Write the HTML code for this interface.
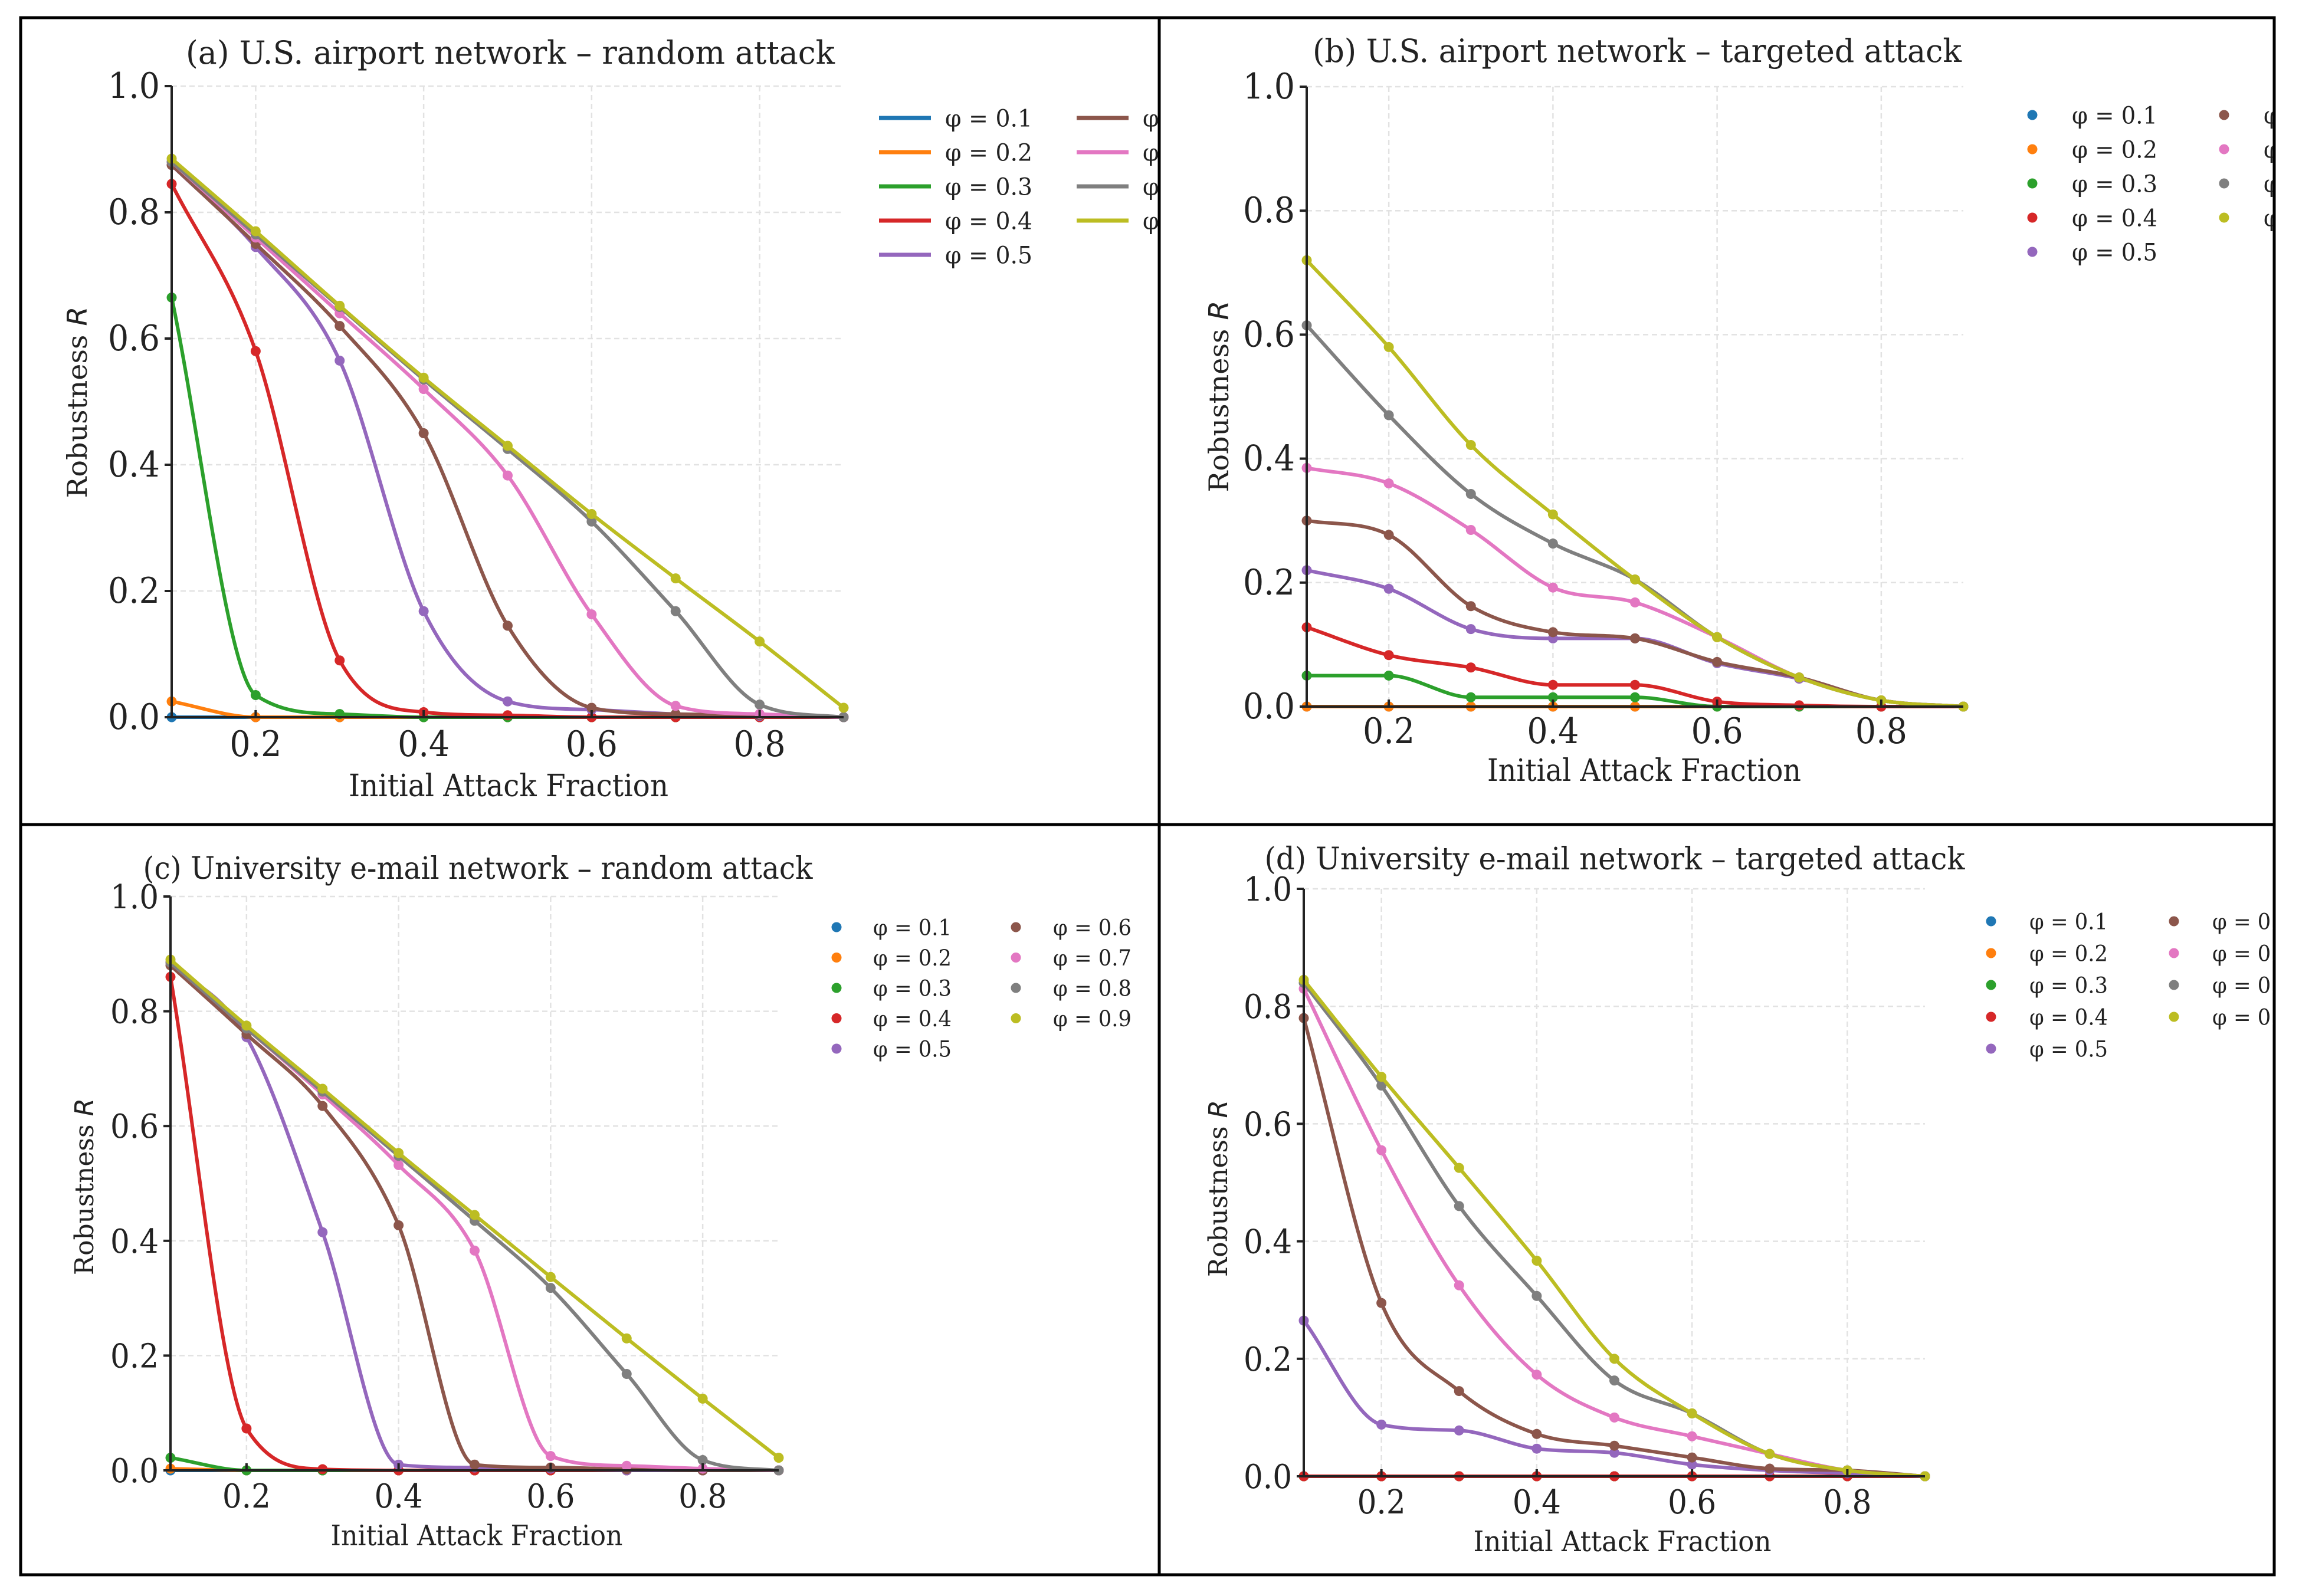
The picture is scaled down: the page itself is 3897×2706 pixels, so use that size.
<!DOCTYPE html>
<html><head><meta charset="utf-8"><style>
html,body{margin:0;padding:0;background:#fff;}
svg{display:block;}
text{font-family:"DejaVu Serif","Liberation Serif",serif;fill:#222;}
</style></head><body>
<svg id="fig" xmlns="http://www.w3.org/2000/svg" width="3897" height="2706" viewBox="0 0 3897 2706">
<defs>
<clipPath id="clipA"><rect x="38" y="33" width="1925" height="1363"/></clipPath>
<clipPath id="clipB"><rect x="1968" y="33" width="1885" height="1363"/></clipPath>
<clipPath id="clipC"><rect x="38" y="1401" width="1925" height="1267"/></clipPath>
<clipPath id="clipD"><rect x="1968" y="1401" width="1885" height="1267"/></clipPath>
</defs>
<rect x="0" y="0" width="3897" height="2706" fill="#fff"/>
<g id="frames" stroke="#000" stroke-width="5" fill="none">
<rect x="35" y="30" width="3820" height="2640"/>
<line x1="1965" y1="30" x2="1965" y2="2670"/>
<line x1="35" y1="1398" x2="3855" y2="1398"/>
</g>
</svg>
<script>
const xValues = [0.1,0.2,0.3,0.4,0.5,0.6,0.7,0.8,0.9];
const phiLabels = ['φ = 0.1','φ = 0.2','φ = 0.3','φ = 0.4','φ = 0.5','φ = 0.6','φ = 0.7','φ = 0.8','φ = 0.9'];
const xTickValues = [0.2,0.4,0.6,0.8];
const xTickLabels = ['0.2','0.4','0.6','0.8'];
const yTickValues = [0.0,0.2,0.4,0.6,0.8,1.0];
const yTickLabels = ['0.0','0.2','0.4','0.6','0.8','1.0'];
const colors = ['#1f77b4','#ff7f0e','#2ca02c','#d62728','#9467bd','#8c564b','#e377c2','#7f7f7f','#bcbd22'];

const airportRandom = [
 [0,0,0,0,0,0,0,0,0],
 [0.025,0,0,0,0,0,0,0,0],
 [0.665,0.035,0.005,0,0,0,0,0,0],
 [0.845,0.58,0.09,0.008,0.003,0,0,0,0],
 [0.875,0.745,0.565,0.168,0.025,0.012,0.005,0.002,0],
 [0.875,0.75,0.62,0.45,0.145,0.015,0.005,0.003,0],
 [0.88,0.76,0.64,0.52,0.383,0.163,0.018,0.005,0],
 [0.88,0.765,0.65,0.535,0.425,0.31,0.168,0.02,0],
 [0.885,0.77,0.652,0.538,0.43,0.322,0.22,0.12,0.015]
];
const airportTargeted = [
 [0,0,0,0,0,0,0,0,0],
 [0,0,0,0,0,0,0,0,0],
 [0.05,0.05,0.015,0.015,0.015,0,0,0,0],
 [0.128,0.083,0.063,0.035,0.035,0.008,0.002,0,0],
 [0.22,0.19,0.125,0.11,0.11,0.07,0.045,0.01,0],
 [0.30,0.277,0.162,0.12,0.11,0.072,0.047,0.01,0],
 [0.385,0.36,0.285,0.192,0.168,0.112,0.047,0.01,0],
 [0.615,0.47,0.343,0.263,0.205,0.112,0.047,0.01,0],
 [0.72,0.58,0.422,0.31,0.205,0.112,0.047,0.01,0]
];
const emailRandom = [
 [0,0,0,0,0,0,0,0,0],
 [0.003,0,0,0,0,0,0,0,0],
 [0.022,0,0,0,0,0,0,0,0],
 [0.86,0.073,0.002,0,0,0,0,0,0],
 [0.885,0.755,0.415,0.01,0.005,0.003,0,0,0],
 [0.88,0.76,0.635,0.427,0.01,0.005,0.002,0,0],
 [0.885,0.77,0.655,0.532,0.383,0.025,0.008,0.003,0],
 [0.885,0.77,0.66,0.548,0.435,0.318,0.168,0.018,0],
 [0.89,0.775,0.665,0.553,0.445,0.337,0.23,0.125,0.022]
];
const emailTargeted = [
 [0,0,0,0,0,0,0,0,0],
 [0,0,0,0,0,0,0,0,0],
 [0,0,0,0,0,0,0,0,0],
 [0,0,0,0,0,0,0,0,0],
 [0.265,0.088,0.078,0.047,0.04,0.02,0.01,0.005,0],
 [0.78,0.295,0.145,0.072,0.052,0.032,0.013,0.01,0],
 [0.83,0.555,0.325,0.173,0.1,0.068,0.038,0.01,0],
 [0.84,0.665,0.46,0.307,0.163,0.107,0.038,0.01,0],
 [0.845,0.68,0.525,0.367,0.2,0.107,0.038,0.01,0]
];

const NS='http://www.w3.org/2000/svg';
const svg=document.getElementById('fig');
function mk(tag,attrs,parent){const e=document.createElementNS(NS,tag);for(const k in attrs)e.setAttribute(k,attrs[k]);parent.appendChild(e);return e;}

// monotone cubic (Fritsch-Carlson) to avoid overshoot
function smoothPath(pts){
  const n=pts.length, d=[], m=new Array(n);
  for(let i=0;i<n-1;i++) d.push((pts[i+1][1]-pts[i][1])/(pts[i+1][0]-pts[i][0]));
  m[0]=d[0]; m[n-1]=d[n-2];
  for(let i=1;i<n-1;i++){
    if(d[i-1]*d[i]<=0) m[i]=0; else m[i]=(d[i-1]+d[i])/2;
  }
  for(let i=0;i<n-1;i++){
    if(d[i]===0){m[i]=0;m[i+1]=0;continue;}
    const a=m[i]/d[i], b=m[i+1]/d[i], s=a*a+b*b;
    if(s>9){const t=3/Math.sqrt(s);m[i]=t*a*d[i];m[i+1]=t*b*d[i];}
  }
  let path='M'+pts[0][0].toFixed(1)+','+pts[0][1].toFixed(1);
  for(let i=0;i<n-1;i++){
    const h=(pts[i+1][0]-pts[i][0])/3;
    path+=' C'+(pts[i][0]+h).toFixed(1)+','+(pts[i][1]+m[i]*h).toFixed(1)+' '+(pts[i+1][0]-h).toFixed(1)+','+(pts[i+1][1]-m[i+1]*h).toFixed(1)+' '+pts[i+1][0].toFixed(1)+','+pts[i+1][1].toFixed(1);
  }
  return path;
}

function drawPanel(p){
  const g=mk('g',{'clip-path':'url(#'+p.clip+')'},svg);
  
  
  const sx=v=>p.x0+(v-0.1)/0.8*(p.x1-p.x0);
  const sy=v=>p.yB-v*(p.yB-p.yT);
  const grid=mk('g',{stroke:'#e2e2e2','stroke-width':2.5,'stroke-dasharray':'9,6'},g);
  
  
  xTickValues.forEach(v=>mk('line',{x1:sx(v),x2:sx(v),y1:p.yT,y2:p.yB},grid));
  yTickValues.slice(1).forEach(v=>mk('line',{x1:p.x0,x2:p.x1,y1:sy(v),y2:sy(v)},grid));
  const t=mk('text',{x:p.tcx,y:p.tby,'font-size':p.tfs,'text-anchor':'middle',textLength:p.tlen,lengthAdjust:'spacingAndGlyphs'},g);
  t.textContent=p.title;
  
  
  p.data.forEach((s,i)=>{
    const pts=s.map((v,j)=>[sx(xValues[j]),sy(v)]);
    const sg=mk('g',{},g);
    
    
    mk('path',{d:smoothPath(pts),fill:'none',stroke:colors[i],'stroke-width':6,'stroke-linejoin':'round'},sg);
    pts.forEach(q=>mk('circle',{cx:q[0],cy:q[1],r:8.5,fill:colors[i]},sg));
  });
  const ax=mk('g',{stroke:'#222','stroke-width':4},g);
  
  
  mk('line',{x1:p.x0,x2:p.x0,y1:p.yT,y2:p.yB+2},ax);
  mk('line',{x1:p.x0,x2:p.x1,y1:p.yB,y2:p.yB},ax);
  yTickValues.forEach(v=>mk('line',{x1:p.x0-12,x2:p.x0,y1:sy(v),y2:sy(v)},ax));
  xTickValues.forEach(v=>mk('line',{x1:sx(v),x2:sx(v),y1:p.yB,y2:p.yB-12},ax));
  yTickLabels.forEach((lab,i)=>{
    const e=mk('text',{x:p.x0-20,y:sy(yTickValues[i])+20,'font-size':p.kfs,'text-anchor':'end',textLength:p.klen,lengthAdjust:'spacingAndGlyphs'},g);
    e.textContent=lab;
    
    
  });
  xTickLabels.forEach((lab,i)=>{
    const e=mk('text',{x:sx(xTickValues[i]),y:p.xtby,'font-size':p.kfs,'text-anchor':'middle',textLength:p.klen,lengthAdjust:'spacingAndGlyphs'},g);
    e.textContent=lab;
    
    
  });
  const xl=mk('text',{x:p.xlcx,y:p.xlby,'font-size':p.lfs,'text-anchor':'middle',textLength:p.xllen,lengthAdjust:'spacingAndGlyphs'},g);
  xl.textContent='Initial Attack Fraction';
  
  
  const yl=mk('text',{x:0,y:0,'font-size':p.yfs,'text-anchor':'middle',transform:'translate('+p.ylx+','+p.ylcy+') rotate(-90)',textLength:p.yllen,lengthAdjust:'spacingAndGlyphs'},g);
  yl.innerHTML='Robustness <tspan font-style="italic" font-family="DejaVu Sans">R</tspan>';
  
  
  const lg=mk('g',{},g);
  
  
  phiLabels.forEach((lab,i)=>{
    const col=i<5?0:1,row=i<5?i:i-5;
    const y=p.lgY0+row*p.lgDy;
    const hx=p.lgHx[col],tx=p.lgTx[col];
    const eg=mk('g',{},lg);
    
    
    if(p.lines){mk('line',{x1:hx,x2:hx+88,y1:y,y2:y,stroke:colors[i],'stroke-width':7},eg);}
    else{mk('circle',{cx:hx,cy:y,r:8.5,fill:colors[i]},eg);}
    const e=mk('text',{x:tx,y:y+p.lgfs*0.36,'font-size':p.lgfs,textLength:p.lglen,lengthAdjust:'spacingAndGlyphs'},eg);
    e.textContent=lab;
  });
}

drawPanel({name:'panel-a-airport-random',clip:'clipA',data:airportRandom,title:'(a) U.S. airport network – random attack',
 x0:291,x1:1430,yT:146,yB:1216,tcx:865,tby:108,tfs:54,tlen:1100,kfs:60,klen:88,xtby:1282,xlcx:862,xlby:1350,xllen:542,lfs:52,
 ylx:147,ylcy:682,yfs:46,yllen:325,lines:true,lgY0:200,lgDy:58,lgHx:[1490,1825],lgTx:[1602,1937],lgfs:40,lglen:148});
drawPanel({name:'panel-b-airport-targeted',clip:'clipB',data:airportTargeted,title:'(b) U.S. airport network – targeted attack',
 x0:2215,x1:3328,yT:147,yB:1198,tcx:2775,tby:105,tfs:54,tlen:1100,kfs:60,klen:88,xtby:1260,xlcx:2787,xlby:1324,xllen:532,lfs:52,
 ylx:2082,ylcy:672,yfs:46,yllen:325,lines:false,lgY0:195,lgDy:58,lgHx:[3445,3770],lgTx:[3512,3837],lgfs:40,lglen:145});
drawPanel({name:'panel-c-email-random',clip:'clipC',data:emailRandom,title:'(c) University e-mail network – random attack',
 x0:289,x1:1320,yT:1520,yB:2493,tcx:810,tby:1490,tfs:52,tlen:1135,kfs:56,klen:82,xtby:2556,xlcx:808,xlby:2620,xllen:495,lfs:48,
 ylx:158,ylcy:2012,yfs:44,yllen:300,lines:false,lgY0:1572,lgDy:51.5,lgHx:[1418,1722],lgTx:[1480,1785],lgfs:37,lglen:133});
drawPanel({name:'panel-d-email-targeted',clip:'clipD',data:emailTargeted,title:'(d) University e-mail network – targeted attack',
 x0:2210,x1:3263,yT:1507,yB:2503,tcx:2737,tby:1474,tfs:52,tlen:1187,kfs:56,klen:82,xtby:2566,xlcx:2750,xlby:2630,xllen:505,lfs:48,
 ylx:2080,ylcy:2015,yfs:44,yllen:300,lines:false,lgY0:1562,lgDy:54,lgHx:[3375,3685],lgTx:[3440,3750],lgfs:37,lglen:133});
</script>
</body></html>
